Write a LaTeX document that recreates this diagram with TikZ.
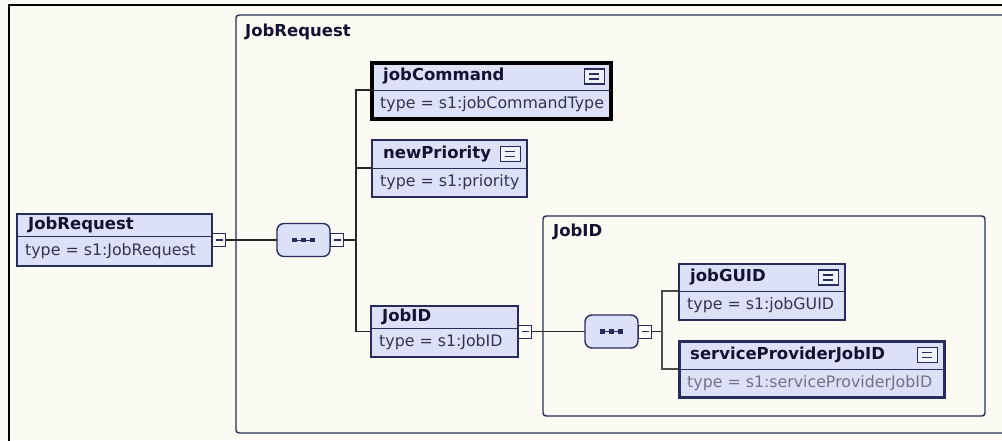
\documentclass[tikz,border=0pt]{standalone}
\usepackage{fontspec}
\setmainfont{DejaVu Sans}
\usetikzlibrary{calc}

\definecolor{navy}{RGB}{40,44,90}
\definecolor{lav}{RGB}{221,225,248}
\definecolor{bgc}{RGB}{251,251,244}
\definecolor{titlec}{RGB}{18,18,50}
\definecolor{typec}{RGB}{50,52,82}

\pgfdeclarelayer{bg}
\pgfsetlayers{bg,main}

\tikzset{
  elembox/.style={draw=navy, line width=2.6pt, fill=lav, anchor=north west,
    inner sep=0pt, outer sep=0pt},
  divline/.style={draw=navy, line width=1pt},
  titletxt/.style={anchor=west, inner sep=0pt,
    font=\fontsize{16.5}{18}\selectfont\bfseries, text=titlec},
  typetxt/.style={anchor=west, inner sep=0pt,
    font=\fontsize{15.8}{18}\selectfont, text=typec},
  grplabel/.style={anchor=west, inner sep=0pt,
    font=\fontsize{16.5}{18}\selectfont\bfseries, text=titlec},
  grpbox/.style={draw=navy, line width=1.4pt, rounded corners=3pt},
  minusbox/.style={draw=navy, line width=1pt, fill=white, minimum width=13pt,
    minimum height=13pt, inner sep=0pt, outer sep=0pt, anchor=west},
  wire/.style={draw=black!85, line width=1.3pt},
  seqbox/.style={draw=navy, line width=1.4pt, fill=lav, rounded corners=7pt,
    minimum width=53pt, minimum height=33pt, inner sep=0pt, outer sep=0pt,
    anchor=west},
  iconbox/.style={draw=navy, line width=1.2pt, fill=white!60!lav,
    minimum width=20pt, minimum height=15pt, inner sep=0pt, anchor=east},
  glyph/.style={draw=navy, line width=1.4pt},
}

% element box: [extra style]{name}{x}{y}{width}{height}{header height}{title}{type}
\newcommand\xsdelem[9][]{%
  \node[elembox, minimum width=#5pt, minimum height=#6pt, #1] (#2) at (#3,#4) {};
  \coordinate (#2-dw) at ([yshift=-#7pt]#2.north west);
  \coordinate (#2-de) at ([yshift=-#7pt]#2.north east);
  \draw[divline] (#2-dw) -- (#2-de);
  \node[titletxt] (#2-title) at ([xshift=11pt,yshift=-#7pt/2]#2.north west) {#8};
  \node[typetxt] (#2-type) at ($(#2-dw)!0.5!(#2.south west)+(8,0)$) {#9};
}

% documentation icon in the header: {element}{header height}
\newcommand\xsdicon[2]{%
  \node[iconbox] (#1-icon) at ([xshift=-6pt,yshift=-#2pt/2]#1.north east) {};
  \draw[glyph] ([xshift=-5pt,yshift=2.5pt]#1-icon.center) -- ([xshift=5pt,yshift=2.5pt]#1-icon.center);
  \draw[glyph] ([xshift=-5pt,yshift=-2.5pt]#1-icon.center) -- ([xshift=5pt,yshift=-2.5pt]#1-icon.center);
}

% collapse box on the right side of a node: {name}{host node}
\newcommand\xsdminus[2]{%
  \node[minusbox] (#1) at ([xshift=0.5pt]#2.east) {};
  \draw[navy, line width=1.2pt] ([xshift=-3.5pt]#1.center) -- ([xshift=3.5pt]#1.center);
}

% sequence compositor: {name}{x}{y}
\newcommand\xsdseq[3]{%
  \node[seqbox] (#1) at (#2,#3) {};
  \draw[navy, line width=0.9pt] ([xshift=-9pt]#1.center) -- ([xshift=9pt]#1.center);
  \foreach \dx in {-9,0,9} {
    \fill[navy] ([xshift=\dx pt-2.2pt,yshift=-2.2pt]#1.center) rectangle ([xshift=\dx pt+2.2pt,yshift=2.2pt]#1.center);
  }
  \xsdminus{#1-minus}{#1}
}

\begin{document}
\begin{tikzpicture}[x=1pt,y=-1pt]
  \clip (0,0) rectangle (1002,440);

  \begin{pgfonlayer}{bg}
    \fill[bgc] (0,0) rectangle (1002,440);
  \end{pgfonlayer}

  % outer frame
  \draw[black, line width=1.5pt] (9,445) -- (9,5) -- (1010,5);

  % group boxes
  \draw[grpbox] (236,15) rectangle (1012,433);
  \node[grplabel] (grp-jobrequest) at (245,32) {JobRequest};
  \draw[grpbox] (543,216) rectangle (985,416);
  \node[grplabel] (grp-jobid) at (553,232) {JobID};

  % elements
  \xsdelem{jobrequest}{17}{214}{195}{52}{22}{JobRequest}{type = s1:JobRequest}
  \xsdminus{jobrequest-minus}{jobrequest}

  \xsdseq{seq1}{277}{240}

  \xsdelem[draw=black, line width=4pt]{jobcommand}{372}{63}{239}{56}{27}{jobCommand}{type = s1:jobCommandType}
  \xsdicon{jobcommand}{27}

  \xsdelem{newpriority}{372}{140}{155}{57}{28}{newPriority}{type = s1:priority}
  \xsdicon{newpriority}{28}

  \xsdelem{jobid}{371}{306}{147}{51}{22}{JobID}{type = s1:JobID}
  \xsdminus{jobid-minus}{jobid}

  \xsdseq{seq2}{585}{331.5}

  \xsdelem{jobguid}{679}{264}{166}{56}{27}{jobGUID}{type = s1:jobGUID}
  \xsdicon{jobguid}{27}

  \xsdelem[line width=3pt]{spjobid}{679}{341}{265}{56}{28}{serviceProviderJobID}{\textcolor{typec!70!white}{type = s1:serviceProviderJobID}}
  \xsdicon{spjobid}{28}

  % bus positions
  \coordinate (bus1) at (356,0);
  \coordinate (bus2) at (662,0);

  % connectors
  \begin{pgfonlayer}{bg}
    \draw[wire] (jobrequest-minus.east) -- (seq1.west);
    \draw[wire] (seq1-minus.east) -- (seq1-minus.east -| bus1);
    \draw[wire] (jobcommand-dw) -- (jobcommand-dw -| bus1) |- (jobid.west);
    \draw[wire] (newpriority-dw) -- (newpriority-dw -| bus1);
    \draw[wire] (jobid-minus.east) -- (seq2.west);
    \draw[wire] (seq2-minus.east) -- (seq2-minus.east -| bus2);
    \draw[wire, draw=black!70] (jobguid-dw) -- (jobguid-dw -| bus2) |- (spjobid-dw);
  \end{pgfonlayer}
\end{tikzpicture}
\end{document}
